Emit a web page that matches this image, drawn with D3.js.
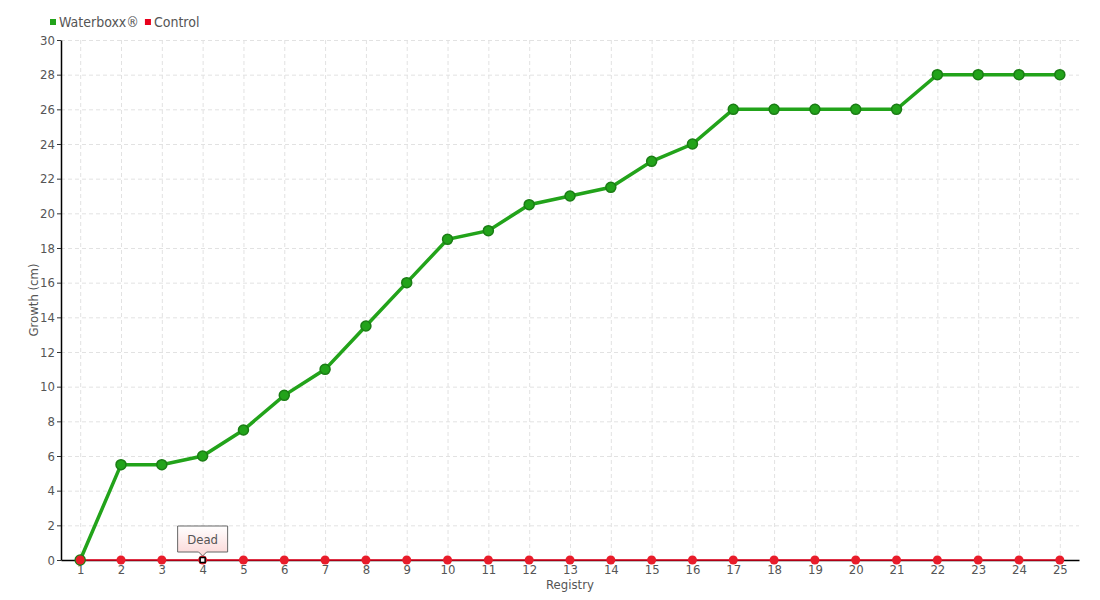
<!DOCTYPE html>
<html>
<head>
<meta charset="utf-8">
<script src="https://cdn.jsdelivr.net/npm/d3@7"></script>
<style>
  body { margin: 0; background: #fff; }
  text { font-family: "DejaVu Sans", sans-serif; font-stretch: condensed; fill: #555; }
  .grid line { stroke: #e2e2e2; stroke-dasharray: 4,3; }
  .grid path { display: none; }
</style>
</head>
<body>
<script>
var registry = d3.range(1, 26);
var waterboxx = [0, 5.5, 5.5, 6, 7.5, 9.5, 11, 13.5, 16, 18.5, 19, 20.5, 21, 21.5, 23, 24, 26, 26, 26, 26, 26, 28, 28, 28, 28];
var control = [0, 0, 0, 0, 0, 0, 0, 0, 0, 0, 0, 0, 0, 0, 0, 0, 0, 0, 0, 0, 0, 0, 0, 0, 0];
var yTicks = d3.range(0, 31, 2);
var seriesNames = ['Waterboxx®', 'Control'];
var tipIndex = 3, tipText = 'Dead';

(function() {
    var w = 1100, h = 600;
    var left = 61, right = 1079, top = 40, bottom = 560;
    var green = '#22a31a', greenDark = '#1a7d14', red = '#e8001c';

    var svg = d3.select('body').append('svg')
        .attr('width', w).attr('height', h);

    var x = d3.scalePoint().domain(registry).range([left, right]).padding(0.47);
    var y = d3.scaleLinear().domain([0, 30]).range([bottom, top]);

    // grid
    svg.append('g')
        .attr('class', 'grid')
        .attr('transform', 'translate(' + left + ',0)')
        .call(d3.axisLeft(y).tickValues(yTicks.slice(1)).tickSize(-(right - left)).tickFormat(''));
    svg.append('g')
        .attr('class', 'grid')
        .attr('transform', 'translate(0,' + top + ')')
        .call(d3.axisBottom(x).tickSize(bottom - top).tickFormat(''));

    // axes
    var yAxis = svg.append('g')
        .attr('transform', 'translate(' + left + ',0)')
        .call(d3.axisLeft(y).tickValues(yTicks).tickSize(4).tickPadding(2).tickSizeOuter(0));
    var xAxis = svg.append('g')
        .attr('transform', 'translate(0,' + bottom + ')')
        .call(d3.axisBottom(x).tickSize(4).tickPadding(1).tickSizeOuter(0));
    [yAxis, xAxis].forEach(function(a) {
        a.select('.domain').attr('stroke', '#000').attr('stroke-width', 1.5);
        a.selectAll('.tick line').attr('stroke', '#333');
        a.selectAll('text').style('font-size', '13px').attr('fill', '#555');
    });

    // axis titles
    svg.append('text')
        .attr('transform', 'translate(38,' + ((top + bottom) / 2) + ') rotate(-90)')
        .attr('text-anchor', 'middle')
        .style('font-size', '13px')
        .text('Growth (cm)');
    svg.append('text')
        .attr('x', (left + right) / 2)
        .attr('y', 589)
        .attr('text-anchor', 'middle')
        .style('font-size', '13px')
        .text('Registry');

    var line = d3.line()
        .x(function(d, i) { return x(registry[i]); })
        .y(function(d) { return y(d); });

    // control series
    svg.append('path')
        .datum(control)
        .attr('d', line)
        .attr('fill', 'none')
        .attr('stroke', red)
        .attr('stroke-width', 1.5);

    // waterboxx series
    svg.append('path')
        .datum(waterboxx)
        .attr('d', line)
        .attr('fill', 'none')
        .attr('stroke', green)
        .attr('stroke-width', 3.5);
    svg.append('g').selectAll('circle')
        .data(waterboxx)
        .enter().append('circle')
        .attr('cx', function(d, i) { return x(registry[i]); })
        .attr('cy', function(d) { return y(d); })
        .attr('r', 5)
        .attr('fill', green)
        .attr('stroke', greenDark)
        .attr('stroke-width', 1.5);

    svg.append('g').selectAll('circle')
        .data(control)
        .enter().append('circle')
        .attr('cx', function(d, i) { return x(registry[i]); })
        .attr('cy', function(d) { return y(d); })
        .attr('r', 4.5)
        .attr('fill', '#e81c2a');

    // hovered point marker + tooltip
    var tx = x(registry[tipIndex]), ty = y(control[tipIndex]);
    svg.append('rect')
        .attr('x', tx - 2.5).attr('y', ty - 2.5)
        .attr('width', 5).attr('height', 5)
        .attr('fill', '#fff').attr('stroke', '#000').attr('stroke-width', 1.5);

    var defs = svg.append('defs');
    var grad = defs.append('linearGradient')
        .attr('id', 'tipGrad').attr('x1', 0).attr('y1', 0).attr('x2', 0).attr('y2', 1);
    grad.append('stop').attr('offset', '0%').attr('stop-color', '#fff');
    grad.append('stop').attr('offset', '100%').attr('stop-color', '#fbd6d6');

    var bw = 50, bh = 26, by = ty - 34;
    var p = [
        [tx - bw / 2, by], [tx + bw / 2, by], [tx + bw / 2, by + bh],
        [tx + 4, by + bh], [tx, by + bh + 4], [tx - 4, by + bh],
        [tx - bw / 2, by + bh]
    ];
    svg.append('path')
        .attr('d', 'M' + p.join('L') + 'Z')
        .attr('fill', 'url(#tipGrad)')
        .attr('stroke', '#666')
        .attr('stroke-width', 1);
    svg.append('text')
        .attr('x', tx).attr('y', by + 18)
        .attr('text-anchor', 'middle')
        .style('font-size', '13px')
        .text(tipText);

    // legend
    var colors = [green, red];
    var lg = svg.append('g').attr('transform', 'translate(50,22)');
    var offset = 0;
    seriesNames.forEach(function(name, i) {
        var g = lg.append('g').attr('transform', 'translate(' + offset + ',0)');
        g.append('rect')
            .attr('x', 0).attr('y', -3).attr('width', 6).attr('height', 6)
            .attr('fill', colors[i]);
        var t = g.append('text')
            .attr('x', 9).attr('y', 5)
            .style('font-size', '14px')
            .text(name);
        offset += 9 + t.node().getComputedTextLength() + 6;
    });
})();
</script>
</body>
</html>
